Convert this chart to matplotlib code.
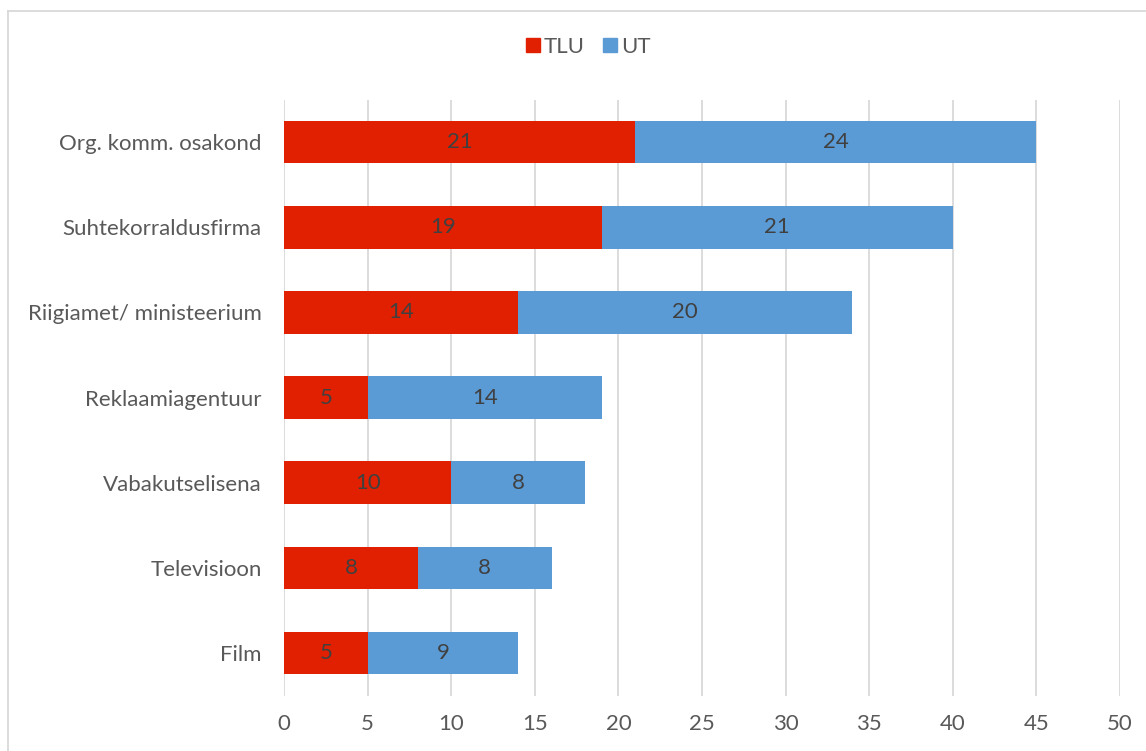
import numpy as np
import matplotlib

matplotlib.use('agg')
from matplotlib import pyplot as plt
from matplotlib.lines import Line2D

categories = ['Org. komm. osakond', 'Suhtekorraldusfirma', 'Riigiamet/ ministeerium',
              'Reklaamiagentuur', 'Vabakutselisena', 'Televisioon', 'Film']
tlu = [21, 19, 14, 5, 10, 8, 5]
ut = [24, 21, 20, 14, 8, 8, 9]
xticks = [0, 5, 10, 15, 20, 25, 30, 35, 40, 45, 50]

plt.rcParams['font.family'] = ['Lato', 'DejaVu Sans']
txt = '#595959'
red = '#E02000'
blue = '#5B9BD5'

W, H = 1146, 751
fig = plt.figure(figsize=(W / 100, H / 100), dpi=100)
ax = fig.add_axes([284 / W, (751 - 695.6) / H, (1120 - 284) / W, (695.6 - 99.6) / H])

y = np.arange(len(categories))[::-1]
b1 = ax.barh(y, tlu, height=0.5, color=red, label='TLU', zorder=3)
b2 = ax.barh(y, ut, left=tlu, height=0.5, color=blue, label='UT', zorder=3)
ax.bar_label(b1, label_type='center', color='#404040', fontsize=16)
ax.bar_label(b2, label_type='center', color='#404040', fontsize=16)

ax.set_xlim(0, 50)
ax.set_ylim(-0.5, len(categories) - 0.5)
ax.set_xticks(xticks)
ax.set_yticks(y)
ax.set_yticklabels(categories)
ax.tick_params(axis='both', length=0, labelsize=16, labelcolor=txt)
ax.tick_params(axis='y', pad=16)
ax.tick_params(axis='x', pad=13)
ax.grid(axis='x', color='#D9D9D9', linewidth=1.3, zorder=0)
for s in ax.spines.values():
    s.set_visible(False)

handles = [Line2D([], [], marker='s', linestyle='none', markersize=10, color=red),
           Line2D([], [], marker='s', linestyle='none', markersize=10, color=blue)]
fig.legend(handles, ['TLU', 'UT'], loc='center', bbox_to_anchor=(588 / W, 1 - 47 / H),
           ncol=2, frameon=False, fontsize=16, labelcolor=txt,
           handlelength=0.7, handletextpad=0.15, columnspacing=0.8)

# chart frame (cut off at right and bottom)
fig.add_artist(Line2D([7.5 / W, 7.5 / W], [0, 1 - 10.5 / H], transform=fig.transFigure,
                      color='#D9D9D9', linewidth=1.3))
fig.add_artist(Line2D([7.5 / W, 1], [1 - 10.5 / H, 1 - 10.5 / H], transform=fig.transFigure,
                      color='#D9D9D9', linewidth=1.3))

fig.savefig('out.png', dpi=100)
